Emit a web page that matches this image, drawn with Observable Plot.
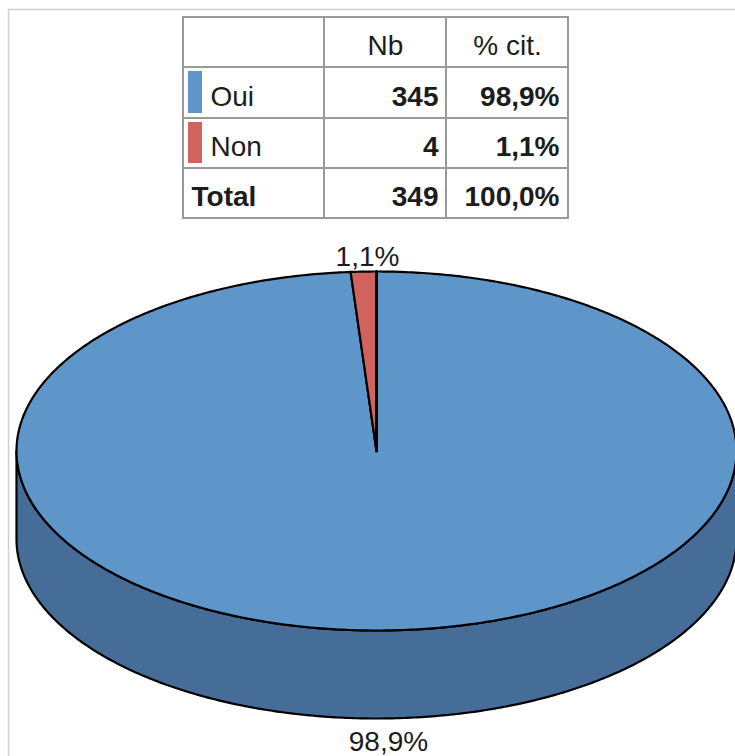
<!DOCTYPE html>
<html lang="fr">
<head>
<meta charset="utf-8">
<script src="https://cdn.jsdelivr.net/npm/d3@7"></script>
<script src="https://cdn.jsdelivr.net/npm/@observablehq/plot@0.6"></script>
<style>
html,body{margin:0;padding:0;background:#fff;overflow:hidden}
svg{display:block}
</style>
</head>
<body>
<div id="chart"></div>
<script>
// Data
const categories = ["Oui", "Non"];
const counts = [345, 4];
const shares = ["98,9%", "1,1%"];
const columnHeads = ["Nb", "% cit."];
const totalLabel = "Total";
const totalCount = "349";
const totalShare = "100,0%";

// Styles and layout
const W = 735, H = 756;
const topColors = ["#5f96c9", "#d2625d"];
const sideColor = "#456d98";
const gridColor = "#9a9a9a";
const frameColor = "#cfcfcf";
const ink = "#1c1c1c";
const font = "'Liberation Sans', Arial, sans-serif";
const fs = 28;
const cx = 376, cy = 450.5, rx = 360, ry = 179.5, depth = 88;
const colEdges = [183, 324, 446, 568];
const rowEdges = [17, 67, 118, 168, 218];
const rowBase = [54, 105, 155, 205];

// Pie geometry derived from the data, clockwise from the top
const arcs = d3.pie().sort(null)(counts);
const onEllipse = (a, dy = 0) => ({x: cx + rx * Math.sin(a), y: cy + dy - ry * Math.cos(a)});
const arcPts = (a0, a1, dy = 0) => {
  const n = Math.max(2, Math.ceil((a1 - a0) / 0.01));
  return d3.range(n + 1).map(i => onEllipse(a0 + (a1 - a0) * i / n, dy));
};
const slices = arcs.map(d => {
  const p = [{x: cx, y: cy}, ...arcPts(d.startAngle, d.endAngle), {x: cx, y: cy}];
  return p;
});
const side = [...arcPts(Math.PI / 2, 3 * Math.PI / 2), ...arcPts(Math.PI / 2, 3 * Math.PI / 2, depth).reverse()];
side.push(side[0]);

// Table
const cells = [];
for (let r = 0; r < 4; r++) for (let c = 0; c < 3; c++)
  cells.push({x1: colEdges[c], x2: colEdges[c + 1], y1: rowEdges[r], y2: rowEdges[r + 1]});
const swatches = categories.map((name, i) => ({
  x1: colEdges[0] + 5, x2: colEdges[0] + 19,
  y1: rowEdges[i + 1] + 4, y2: rowEdges[i + 2] - 5,
  fill: topColors[i]
}));
const numRight = [colEdges[2] - 8, colEdges[3] - 9];
const tableText = [
  {t: columnHeads[0], x: (colEdges[1] + colEdges[2]) / 2 - 0, y: rowBase[0], a: "middle", w: "normal"},
  {t: columnHeads[1], x: (colEdges[2] + colEdges[3]) / 2, y: rowBase[0], a: "middle", w: "normal"},
  ...categories.flatMap((name, i) => [
    {t: name, x: colEdges[0] + 27, y: rowBase[i + 1], a: "start", w: "normal"},
    {t: String(counts[i]), x: numRight[0], y: rowBase[i + 1], a: "end", w: "bold"},
    {t: shares[i], x: numRight[1], y: rowBase[i + 1], a: "end", w: "bold"}
  ]),
  {t: totalLabel, x: colEdges[0] + 8, y: rowBase[3], a: "start", w: "bold"},
  {t: totalCount, x: numRight[0], y: rowBase[3], a: "end", w: "bold"},
  {t: totalShare, x: numRight[1], y: rowBase[3], a: "end", w: "bold"}
];
const textMark = (rows, anchor, weight) => Plot.text(rows, {
  x: "x", y: "y", text: "t", textAnchor: anchor, lineAnchor: "bottom",
  fontSize: fs, fontWeight: weight, fontFamily: font, fill: ink
});
const pieLabels = [
  {t: shares[1], x: 367, y: 265},
  {t: shares[0], x: 388, y: 750}
];

const chart = Plot.plot({
  width: W, height: H, margin: 0,
  x: {domain: [0, W], range: [0, W], axis: null},
  y: {domain: [0, H], range: [0, H], axis: null},
  style: {background: "#fff"},
  marks: [
    // outer frame
    Plot.ruleY([9], {x1: 8, x2: W, stroke: frameColor, strokeWidth: 1.5}),
    Plot.ruleX([8], {y1: 9, y2: H, stroke: frameColor, strokeWidth: 1.5}),
    // table
    Plot.rect(cells, {x1: "x1", x2: "x2", y1: "y1", y2: "y2", fill: "#fff", stroke: gridColor, strokeWidth: 2}),
    Plot.rect(swatches, {x1: "x1", x2: "x2", y1: "y1", y2: "y2", fill: d => d.fill}),
    textMark(tableText.filter(d => d.a === "middle"), "middle", "normal"),
    textMark(tableText.filter(d => d.a === "start" && d.w === "normal"), "start", "normal"),
    textMark(tableText.filter(d => d.a === "start" && d.w === "bold"), "start", "bold"),
    textMark(tableText.filter(d => d.a === "end"), "end", "bold"),
    // pie side
    Plot.line(side, {x: "x", y: "y", fill: sideColor, stroke: "#000", strokeWidth: 2.2}),
    // pie top
    ...slices.map((pts, i) => Plot.line(pts, {x: "x", y: "y", fill: topColors[i], stroke: "#000", strokeWidth: 2.2})),
    // right edge of the red slice is heavier
    Plot.line(slices[1].slice(-2), {x: "x", y: "y", stroke: "#000", strokeWidth: 3}),
    // data labels
    Plot.text(pieLabels, {x: "x", y: "y", text: "t", textAnchor: "middle", lineAnchor: "bottom", fontSize: fs, fontFamily: font, fill: ink})
  ]
});
document.getElementById("chart").append(chart);
</script>
</body>
</html>
